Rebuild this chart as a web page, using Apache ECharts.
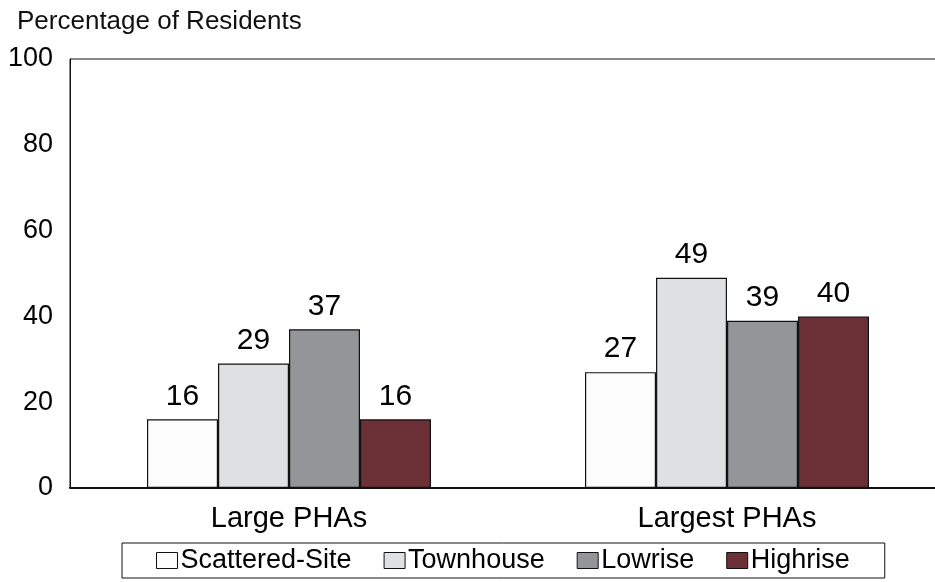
<!DOCTYPE html>
<html>
<head>
<meta charset="utf-8">
<script src="https://cdn.jsdelivr.net/npm/echarts@6/dist/echarts.min.js"></script>
<style>
  html, body { margin: 0; padding: 0; background: #fff; }
  #chart { width: 935px; height: 582px; }
</style>
</head>
<body>
<div id="chart"></div>
<script>
// Share of residents by building type, for large and largest housing agencies
const categories = ['Large PHAs', 'Largest PHAs'];
const scatteredSite = [16, 27];
const townhouse = [29, 49];
const lowrise = [37, 39];
const highrise = [16, 40];
const yTicks = [0, 20, 40, 60, 80, 100];

const seriesDefs = [
  { name: 'Scattered-Site', data: scatteredSite, color: '#fcfcfc' },
  { name: 'Townhouse', data: townhouse, color: '#dfe0e2' },
  { name: 'Lowrise', data: lowrise, color: '#939598' },
  { name: 'Highrise', data: highrise, color: '#6b3035' }
];

const FONT = '"Liberation Sans", Arial, sans-serif';

const chart = echarts.init(document.getElementById('chart'), null, { renderer: 'canvas' });
chart.setOption({
  animation: false,
  backgroundColor: '#fff',
  textStyle: { fontFamily: FONT, color: '#000' },
  title: {
    text: 'Percentage of Residents',
    left: 12,
    top: 4,
    textStyle: { fontFamily: FONT, fontSize: 26, fontWeight: 'normal', color: '#111' }
  },
  grid: {
    left: 70,
    width: 876,
    top: 59,
    bottom: 94,
    outerBoundsMode: 'none',
    containLabel: false,
    show: true,
    borderColor: '#111',
    borderWidth: 1
  },
  legend: {
    bottom: 4,
    left: 122,
    orient: 'horizontal',
    itemWidth: 21,
    itemHeight: 16,
    itemGap: 32,
    padding: [4, 35, 4, 34],
    borderColor: '#111',
    borderWidth: 1,
    textStyle: { fontFamily: FONT, fontSize: 27, color: '#000', padding: [0, 0, 0, -2] },
    data: seriesDefs.map(s => ({
      name: s.name,
      icon: 'rect',
      itemStyle: { color: s.color, borderColor: '#111', borderWidth: 1 }
    }))
  },
  xAxis: {
    type: 'category',
    data: categories,
    axisLine: { show: true, lineStyle: { color: '#111', width: 2 } },
    axisTick: { show: false },
    axisLabel: { fontFamily: FONT, fontSize: 29, color: '#000', margin: 16 }
  },
  yAxis: {
    type: 'value',
    min: 0,
    max: 100,
    interval: 20,
    axisLine: { show: true, lineStyle: { color: '#111', width: 1 } },
    axisTick: { show: false },
    splitLine: { show: false },
    axisLabel: {
      fontFamily: FONT, fontSize: 27, color: '#000', margin: 17,
      formatter: v => yTicks.includes(v) ? String(v) : ''
    }
  },
  series: seriesDefs.map(s => ({
    name: s.name,
    type: 'bar',
    data: s.data,
    barWidth: 71,
    barGap: '0%',
    itemStyle: { color: s.color, borderColor: '#111', borderWidth: 1.2 },
    label: {
      show: true,
      position: 'top',
      distance: 8,
      fontFamily: FONT,
      fontSize: 30,
      color: '#000'
    }
  }))
});
</script>
</body>
</html>
